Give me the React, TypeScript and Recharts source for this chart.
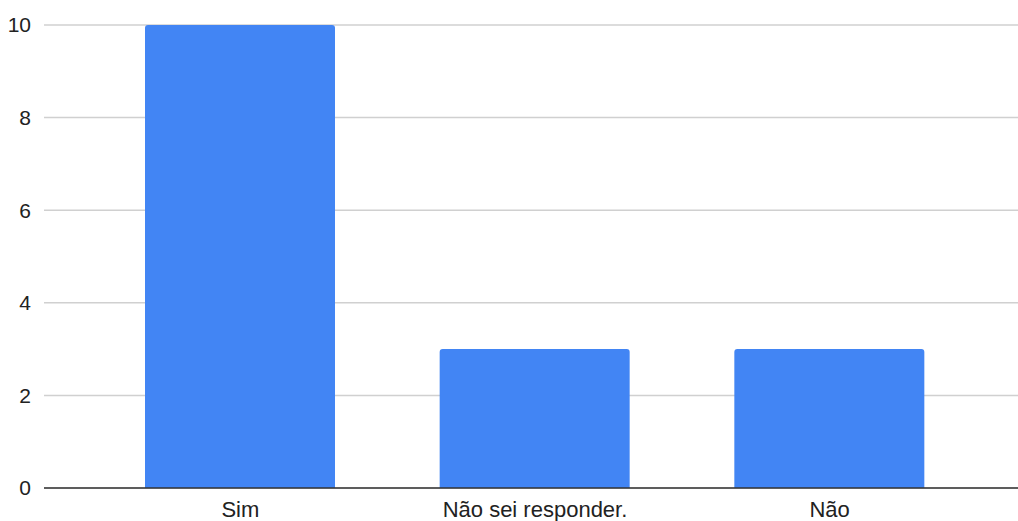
import { Bar, BarChart, CartesianGrid, XAxis, YAxis } from 'recharts';

// respostas e contagens
const categorias = ['Sim', 'Não sei responder.', 'Não'];
const contagens = [10, 3, 3];
const ticksY = [0, 2, 4, 6, 8, 10];

const data = categorias.map((nome, i) => ({ nome, total: contagens[i] }));

const fonte = "Arial, 'Liberation Sans', sans-serif";

export default function App() {
  return (
    <div style={{ position: 'absolute', left: 0, top: 0, background: '#fff' }}>
      <BarChart
        width={1018}
        height={521}
        data={data}
        margin={{ top: 25, right: 0, bottom: 0, left: 0 }}
      >
        <CartesianGrid vertical={false} stroke='#d0d0d0' strokeWidth={1.5} />
        <XAxis
          dataKey='nome'
          height={33}
          padding={{ left: 49, right: 41 }}
          tickLine={false}
          tickSize={0}
          tickMargin={13}
          axisLine={{ stroke: '#333333', strokeWidth: 1.5 }}
          tick={{ fill: '#222222', fontSize: 22, fontFamily: fonte }}
          interval={0}
        />
        <YAxis
          width={44}
          domain={[0, 10]}
          ticks={ticksY}
          axisLine={false}
          tickLine={false}
          tickSize={0}
          tickMargin={13}
          tick={{ fill: '#222222', fontSize: 21, fontFamily: fonte }}
        />
        <Bar
          dataKey='total'
          fill='#4285f4'
          barSize={190}
          radius={[3, 3, 0, 0]}
          isAnimationActive={false}
        />
      </BarChart>
    </div>
  );
}
